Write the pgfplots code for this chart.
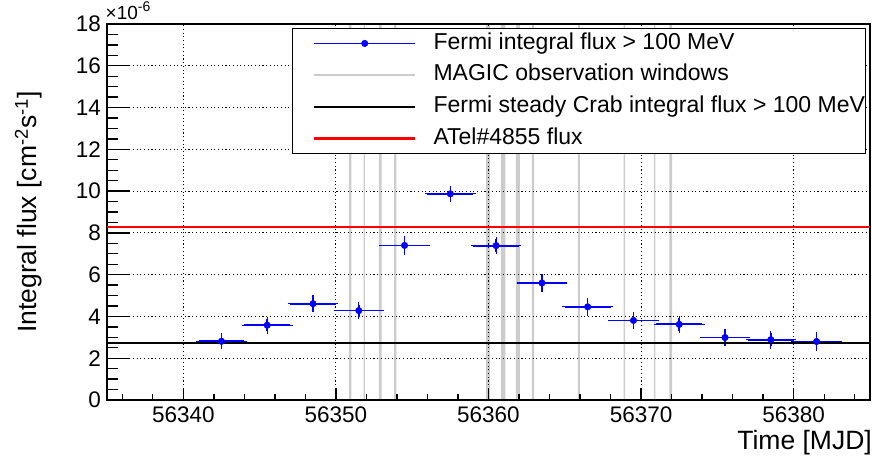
\documentclass[border=0pt]{standalone}
\usepackage{pgfplots}
\pgfplotsset{compat=1.18}
\usepackage{pgfplotstable}
\usepackage{fontspec}
\setmainfont{Liberation Sans}
\definecolor{magicgray}{RGB}{204,204,204}
\definecolor{fermiblue}{RGB}{0,0,255}
\definecolor{atelred}{RGB}{255,0,0}

\pgfplotstableread{
x        y     ex   ey
56342.5  2.81  1.5  0.27
56345.5  3.58  1.5  0.30
56348.5  4.61  1.5  0.30
56351.5  4.28  1.5  0.29
56354.5  7.40  1.5  0.33
56357.5  9.87  1.5  0.27
56360.5  7.39  1.5  0.30
56363.5  5.60  1.5  0.30
56366.5  4.46  1.5  0.30
56369.5  3.81  1.5  0.29
56372.5  3.62  1.5  0.30
56375.5  2.99  1.5  0.30
56378.5  2.89  1.5  0.32
56381.5  2.80  1.5  0.32
}\fermidata

\begin{document}
\begin{tikzpicture}
\begin{axis}[
  name=ax,
  set layers,
  scale only axis,
  width=763pt, height=376pt,
  xmin=56335, xmax=56385, ymin=0, ymax=18,
  xtick={56340,56350,...,56380},
  minor xtick={56336,56338,...,56384},
  ytick={0,2,...,18},
  minor ytick={0,0.5,...,18},
  scaled x ticks=false, scaled y ticks=false,
  /pgf/number format/1000 sep={},
  /pgf/number format/assume math mode=true,
  tick label style={font=\fontsize{22.5}{27}\selectfont},
  xticklabel style={anchor=base, inner sep=0pt, yshift=-22.8pt},
  yticklabel style={anchor=east, inner sep=0pt, xshift=-6pt},
  tick align=inside, tick pos=left,
  major tick length=23pt, minor tick length=11.5pt,
  xtick style={/pgfplots/major tick length=11.5pt, /pgfplots/minor tick length=5.7pt},
  ytick style={/pgfplots/major tick length=23pt, /pgfplots/minor tick length=11.5pt},
  every tick/.append style={black, line width=1.4pt},
  grid=major,
  major grid style={black, line width=0.9pt, dash pattern=on 1.1pt off 2.6pt},
  axis line style={line width=1.8pt},
  xlabel={Time [MJD]},
  xlabel style={at={([xshift=2pt,yshift=-49.5pt]axis description cs:1,0)}, anchor=base east, inner sep=0pt, font=\fontsize{26.5}{30}\selectfont},
  ylabel={Integral flux [cm\textsuperscript{-2}s\textsuperscript{-1}]},
  ylabel style={at={([xshift=-70pt]axis description cs:0,0.5)}, anchor=base, inner sep=0pt, font=\fontsize{26.5}{30}\selectfont},
  legend style={at={(axis description cs:0.2421,0.9886)}, anchor=north west,
    draw=black, line width=1pt, fill=white, inner xsep=1pt, inner ysep=4.4pt,
    row sep=11.2pt, font=\fontsize{23}{27}\selectfont,
    nodes={inner sep=0pt, text height=16pt, text depth=4.5pt},
    /tikz/every odd column/.append style={column sep=17pt}},
  legend cell align=left,
]
% Fermi light curve: horizontal (bin) error bars
\addplot[forget plot, draw=none, mark=none,
  error bars/.cd, x dir=both, x explicit,
  error bar style={line width=1.8pt, draw=fermiblue},
  error mark options={draw=fermiblue, mark size=2.4pt, line width=1.2pt}]
  table[x=x, y=y, x error=ex] {\fermidata};
% Fermi light curve: points with vertical error bars
\addplot[fermiblue, only marks, mark=*, mark size=3.3pt,
  legend image code/.code={\path[draw=none,fill=none] (0pt,0pt) -- (122pt,0pt); \draw[draw=fermiblue, line width=1.5pt] (21pt,0pt) -- (122pt,0pt); \fill[fermiblue] (71.5pt,0pt) circle (3pt);},
  error bars/.cd, y dir=both, y explicit,
  error bar style={line width=1.6pt, draw=fermiblue},
  error mark options={draw=fermiblue, mark size=2.4pt, line width=1.2pt}]
  table[x=x, y=y, y error=ey] {\fermidata};
\addlegendentry{Fermi integral flux > 100 MeV}
% legend image for MAGIC windows
\addlegendimage{legend image code/.code={\path[draw=none,fill=none] (0pt,0pt) -- (122pt,0pt); \draw[magicgray, line width=2.6pt] (21pt,0pt) -- (122pt,0pt);}}
\addlegendentry{MAGIC observation windows}
% Crab steady flux
\addplot[black, line width=2.6pt, legend image code/.code={\path[draw=none,fill=none] (0pt,0pt) -- (122pt,0pt); \draw[black, line width=2.6pt] (21pt,0pt) -- (122pt,0pt);}]
  coordinates {(56335,2.73) (56385,2.73)};
\addlegendentry{Fermi steady Crab integral flux > 100 MeV}
% ATel flux
\addplot[atelred, line width=2.6pt, legend image code/.code={\path[draw=none,fill=none] (0pt,0pt) -- (122pt,0pt); \draw[atelred, line width=2.6pt] (21pt,0pt) -- (122pt,0pt);}]
  coordinates {(56335,8.28) (56385,8.28)};
\addlegendentry{ATel\#4855 flux}
% MAGIC observation windows (bands)
\addplot[fill=magicgray, draw=none, forget plot, on layer=axis background] coordinates {(56350.85,0) (56350.85,18) (56351.02,18) (56351.02,0)} \closedcycle;
\addplot[fill=magicgray, draw=none, forget plot, on layer=axis background] coordinates {(56351.81,0) (56351.81,18) (56351.90,18) (56351.90,0)} \closedcycle;
\addplot[fill=magicgray, draw=none, forget plot, on layer=axis background] coordinates {(56352.81,0) (56352.81,18) (56352.99,18) (56352.99,0)} \closedcycle;
\addplot[fill=magicgray, draw=none, forget plot, on layer=axis background] coordinates {(56353.81,0) (56353.81,18) (56353.97,18) (56353.97,0)} \closedcycle;
\addplot[fill=magicgray, draw=none, forget plot, on layer=axis background] coordinates {(56359.82,0) (56359.82,18) (56360.09,18) (56360.09,0)} \closedcycle;
\addplot[fill=magicgray, draw=none, forget plot, on layer=axis background] coordinates {(56360.81,0) (56360.81,18) (56361.11,18) (56361.11,0)} \closedcycle;
\addplot[fill=magicgray, draw=none, forget plot, on layer=axis background] coordinates {(56361.79,0) (56361.79,18) (56362.06,18) (56362.06,0)} \closedcycle;
\addplot[fill=magicgray, draw=none, forget plot, on layer=axis background] coordinates {(56362.84,0) (56362.84,18) (56362.99,18) (56362.99,0)} \closedcycle;
\addplot[fill=magicgray, draw=none, forget plot, on layer=axis background] coordinates {(56365.85,0) (56365.85,18) (56365.98,18) (56365.98,0)} \closedcycle;
\addplot[fill=magicgray, draw=none, forget plot, on layer=axis background] coordinates {(56368.85,0) (56368.85,18) (56368.95,18) (56368.95,0)} \closedcycle;
\addplot[fill=magicgray, draw=none, forget plot, on layer=axis background] coordinates {(56370.83,0) (56370.83,18) (56370.94,18) (56370.94,0)} \closedcycle;
\addplot[fill=magicgray, draw=none, forget plot, on layer=axis background] coordinates {(56371.86,0) (56371.86,18) (56372.03,18) (56372.03,0)} \closedcycle;
\end{axis}
\node[anchor=base west, inner sep=0pt, font=\fontsize{19}{21}\selectfont] at ([xshift=-1.5pt,yshift=4pt]ax.north west) {×10\raisebox{8.5pt}{\fontsize{14}{14}\selectfont -6}};
\pgfresetboundingbox
\useasboundingbox (-107pt,-63pt) rectangle (765pt,400pt);
\end{tikzpicture}
\end{document}
